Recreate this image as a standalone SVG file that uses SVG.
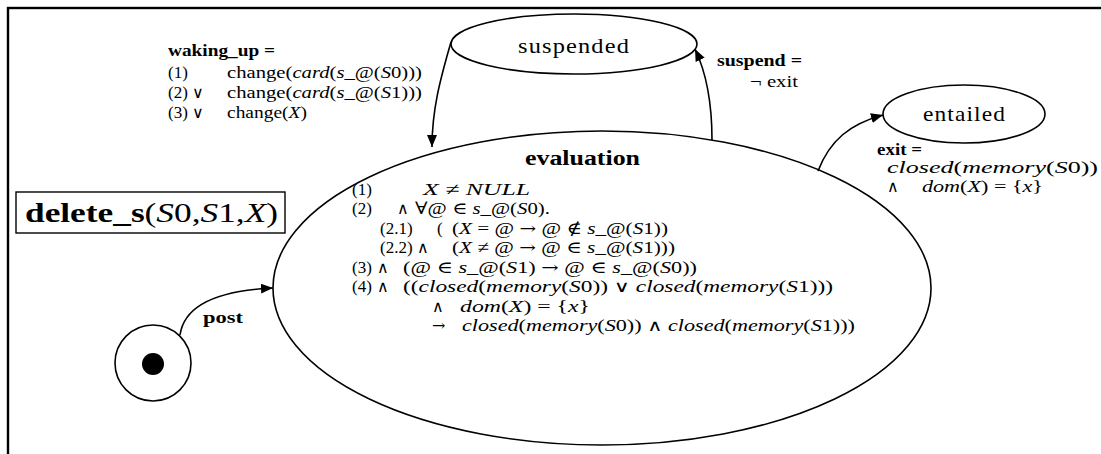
<svg xmlns="http://www.w3.org/2000/svg" width="1101" height="454" viewBox="0 0 1101 454">
<style>
.t{font-family:"Liberation Serif","DejaVu Serif",serif;font-size:17px;fill:#000}
.b{font-weight:bold}
.i{font-style:italic}
.op{font-family:"DejaVu Serif",serif;font-size:16px}
.lbl{font-size:21px;letter-spacing:1px}
.shape{fill:#fff;stroke:#000;stroke-width:1.6}
.edge{fill:none;stroke:#000;stroke-width:1.6}
</style>
<defs>
<marker id="arr" viewBox="0 0 12 10" refX="12" refY="5" markerWidth="12" markerHeight="10" markerUnits="userSpaceOnUse" orient="auto">
<path d="M0,0 L12,5 L0,10 z" fill="#000"/>
</marker>
</defs>
<rect width="1101" height="454" fill="#fff"/>
<g id="frame"><rect x="8" y="8" width="1100" height="460" fill="none" stroke="#000" stroke-width="2.4"/></g>

<g id="title">
<rect x="16" y="192" width="269" height="41" fill="#fff" stroke="#000" stroke-width="1.4"/>
<text class="t" x="25" y="222" style="font-size:28px" textLength="253" lengthAdjust="spacingAndGlyphs"><tspan class="b">delete_s</tspan>(<tspan class="i">S</tspan>0,<tspan class="i">S</tspan>1,<tspan class="i">X</tspan>)</text>
</g>

<g id="start">
<circle cx="153" cy="363" r="38" class="shape"/>
<circle cx="153" cy="364" r="11" fill="#000"/>
</g>

<g id="suspended">
<ellipse cx="574" cy="44" rx="123" ry="30" class="shape"/>
<text class="t lbl" x="518" y="53" textLength="112" lengthAdjust="spacingAndGlyphs">suspended</text>
</g>

<g id="entailed">
<ellipse cx="964" cy="114" rx="81" ry="29" class="shape"/>
<text class="t lbl" x="923" y="121" textLength="83" lengthAdjust="spacingAndGlyphs">entailed</text>
</g>

<g id="evaluation">
<ellipse cx="602" cy="288" rx="329" ry="157" class="shape"/>
<text class="t b" x="525" y="165" style="font-size:20px" textLength="115" lengthAdjust="spacingAndGlyphs">evaluation</text>
<text class="t" x="352" y="195">(1)</text>
<text class="t" x="423" y="195" textLength="107" lengthAdjust="spacingAndGlyphs"><tspan class="i">X</tspan> ≠ <tspan class="i">NULL</tspan></text>
<text class="t" x="352" y="214">(2)</text>
<text class="t op" x="397" y="214">∧</text>
<text class="t" x="415" y="214" textLength="135" lengthAdjust="spacingAndGlyphs">∀@ ∈ <tspan class="i">s</tspan>_@(<tspan class="i">S</tspan>0).</text>
<text class="t" x="380" y="234">(2.1)</text>
<text class="t" x="437" y="234">(</text>
<text class="t" x="452" y="234" textLength="216" lengthAdjust="spacingAndGlyphs">(<tspan class="i">X</tspan> = @ <tspan class="op">→</tspan> @ ∉ <tspan class="i">s</tspan>_@(<tspan class="i">S</tspan>1))</text>
<text class="t" x="380" y="253">(2.2)</text>
<text class="t op" x="417" y="253">∧</text>
<text class="t" x="452" y="253" textLength="223" lengthAdjust="spacingAndGlyphs">(<tspan class="i">X</tspan> ≠ @ <tspan class="op">→</tspan> @ ∈ <tspan class="i">s</tspan>_@(<tspan class="i">S</tspan>1)))</text>
<text class="t" x="352" y="273">(3)</text>
<text class="t op" x="377" y="273">∧</text>
<text class="t" x="403" y="273" textLength="294" lengthAdjust="spacingAndGlyphs">(@ ∈ <tspan class="i">s</tspan>_@(<tspan class="i">S</tspan>1) <tspan class="op">→</tspan> @ ∈ <tspan class="i">s</tspan>_@(<tspan class="i">S</tspan>0))</text>
<text class="t" x="352" y="292">(4)</text>
<text class="t op" x="377" y="292">∧</text>
<text class="t" x="403" y="292" textLength="430" lengthAdjust="spacingAndGlyphs">((<tspan class="i">closed</tspan>(<tspan class="i">memory</tspan>(<tspan class="i">S</tspan>0)) <tspan class="op">∨</tspan> <tspan class="i">closed</tspan>(<tspan class="i">memory</tspan>(<tspan class="i">S</tspan>1)))</text>
<text class="t op" x="432" y="312">∧</text>
<text class="t" x="460" y="312" textLength="130" lengthAdjust="spacingAndGlyphs"><tspan class="i">dom</tspan>(<tspan class="i">X</tspan>) = {<tspan class="i">x</tspan>}</text>
<text class="t op" x="432" y="331">→</text>
<text class="t" x="462" y="331" textLength="393" lengthAdjust="spacingAndGlyphs"><tspan class="i">closed</tspan>(<tspan class="i">memory</tspan>(<tspan class="i">S</tspan>0)) <tspan class="op">∧</tspan> <tspan class="i">closed</tspan>(<tspan class="i">memory</tspan>(<tspan class="i">S</tspan>1)))</text>
</g>

<g id="connectors">
<path class="edge" d="M180,335 C185,300 230,290 273,288" marker-end="url(#arr)"/>
<path class="edge" d="M451,42 C440,80 432,110 432,147" marker-end="url(#arr)"/>
<path class="edge" d="M712,140 C712,100 706,72 695,49" marker-end="url(#arr)"/>
<path class="edge" d="M818,171 C830,140 850,124 883,115" marker-end="url(#arr)"/>
</g>

<g id="edge-labels">
<text class="t b" x="203" y="323" textLength="40" lengthAdjust="spacingAndGlyphs">post</text>
<text class="t b" x="168" y="56" textLength="107" lengthAdjust="spacingAndGlyphs">waking_up =</text>
<text class="t" x="168" y="78">(1)</text>
<text class="t" x="227" y="78" textLength="195" lengthAdjust="spacingAndGlyphs">change(<tspan class="i">card</tspan>(<tspan class="i">s</tspan>_@(<tspan class="i">S</tspan>0)))</text>
<text class="t" x="168" y="98">(2) <tspan class="op">∨</tspan></text>
<text class="t" x="227" y="98" textLength="195" lengthAdjust="spacingAndGlyphs">change(<tspan class="i">card</tspan>(<tspan class="i">s</tspan>_@(<tspan class="i">S</tspan>1)))</text>
<text class="t" x="168" y="118">(3) <tspan class="op">∨</tspan></text>
<text class="t" x="227" y="118" textLength="80" lengthAdjust="spacingAndGlyphs">change(<tspan class="i">X</tspan>)</text>
<text class="t b" x="717" y="66" textLength="85" lengthAdjust="spacingAndGlyphs">suspend =</text>
<text class="t" x="750" y="87" textLength="48" lengthAdjust="spacingAndGlyphs">¬ exit</text>
<text class="t b" x="877" y="155" textLength="45" lengthAdjust="spacingAndGlyphs">exit =</text>
<text class="t" x="887" y="173" textLength="211" lengthAdjust="spacingAndGlyphs"><tspan class="i">closed</tspan>(<tspan class="i">memory</tspan>(<tspan class="i">S</tspan>0))</text>
<text class="t op" x="887" y="192">∧</text>
<text class="t" x="922" y="192" textLength="121" lengthAdjust="spacingAndGlyphs"><tspan class="i">dom</tspan>(<tspan class="i">X</tspan>) = {<tspan class="i">x</tspan>}</text>
</g>
</svg>
